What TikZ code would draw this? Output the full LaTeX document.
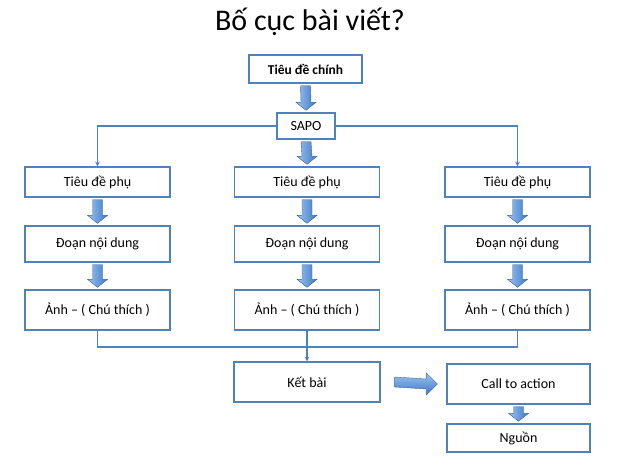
\documentclass[tikz,border=0pt]{standalone}
\usepackage{fontspec}
\setmainfont{Carlito}
\usetikzlibrary{calc}
\definecolor{bl}{HTML}{4F81BD}
\definecolor{al}{HTML}{9CC3EE}
\definecolor{ad}{HTML}{3A78C8}
\newcommand\dnarr[2]{\shade[left color=al,right color=ad,draw=bl!80!black,line width=0.4pt]
 ($(#1)+(-5,2)$) -- ($(#2)+(-5,-10)$) -- ($(#2)+(-10,-10)$) -- ($(#2)+(0,-2)$) -- ($(#2)+(10,-10)$) -- ($(#2)+(5,-10)$) -- ($(#1)+(5,2)$) -- cycle;}
\newcommand\rtarr[2]{\shade[top color=al,bottom color=ad,draw=bl!80!black,line width=0.4pt]
 ($(#1)+(14,-5)$) -- ($(#2)+(-20,-5)$) -- ($(#2)+(-20,-11)$) -- ($(#2)+(-9,0)$) -- ($(#2)+(-20,11)$) -- ($(#2)+(-20,5)$) -- ($(#1)+(14,5)$) -- cycle;}
\begin{document}
\begin{tikzpicture}[x=1pt,y=-1pt,
 box/.style={draw=bl,line width=1.4pt,fill=white,inner sep=0pt,font=\fontsize{14}{16}\selectfont},
 ln/.style={draw=bl,line width=1.1pt}]
\useasboundingbox (0,0) rectangle (620,458);
\node (title) at (310,22) {\fontsize{30}{34}\selectfont Bố cục bài viết?};
\node[box,minimum width=113pt,minimum height=28pt,font=\fontsize{13.5}{15}\selectfont\bfseries] (h) at (305.5,69) {Tiêu đề chính};
\node[box,minimum width=58pt,minimum height=26pt] (sapo) at (306,126) {SAPO};
\foreach \n/\x in {l/97.5,m/307,r/517.5}{
 \node[box,minimum width=145pt,minimum height=30pt] (a\n) at (\x,182) {Tiêu đề phụ};
 \node[box,minimum width=145pt,minimum height=36pt] (b\n) at (\x,244) {Đoạn nội dung};
 \node[box,minimum width=145pt,minimum height=40pt] (c\n) at (\x,310) {Ảnh – ( Chú thích )};
 \dnarr{a\n.south}{b\n.north}
 \dnarr{b\n.south}{c\n.north}
}
\dnarr{h.south}{sapo.north}
\dnarr{sapo.south}{am.north}
\draw[ln,->,>=stealth] (sapo.west) -| (al.north);
\draw[ln,->,>=stealth] (sapo.east) -| (ar.north);
\node[box,minimum width=146pt,minimum height=40pt] (k) at (307,382) {Kết bài};
\node[box,minimum width=143pt,minimum height=40pt] (ca) at (518.5,384) {Call to action};
\node[box,minimum width=143pt,minimum height=28pt] (ng) at (518.5,438) {Nguồn};
\coordinate (j) at (307,347);
\draw[ln] (cl.south) |- (j) -| (cr.south);
\draw[ln] (cm.south) -- (j);
\draw[ln,->,>=stealth] (j) -- (k.north);
\rtarr{k.east}{ca.west}
\dnarr{ca.south}{ng.north}
\end{tikzpicture}
\end{document}
